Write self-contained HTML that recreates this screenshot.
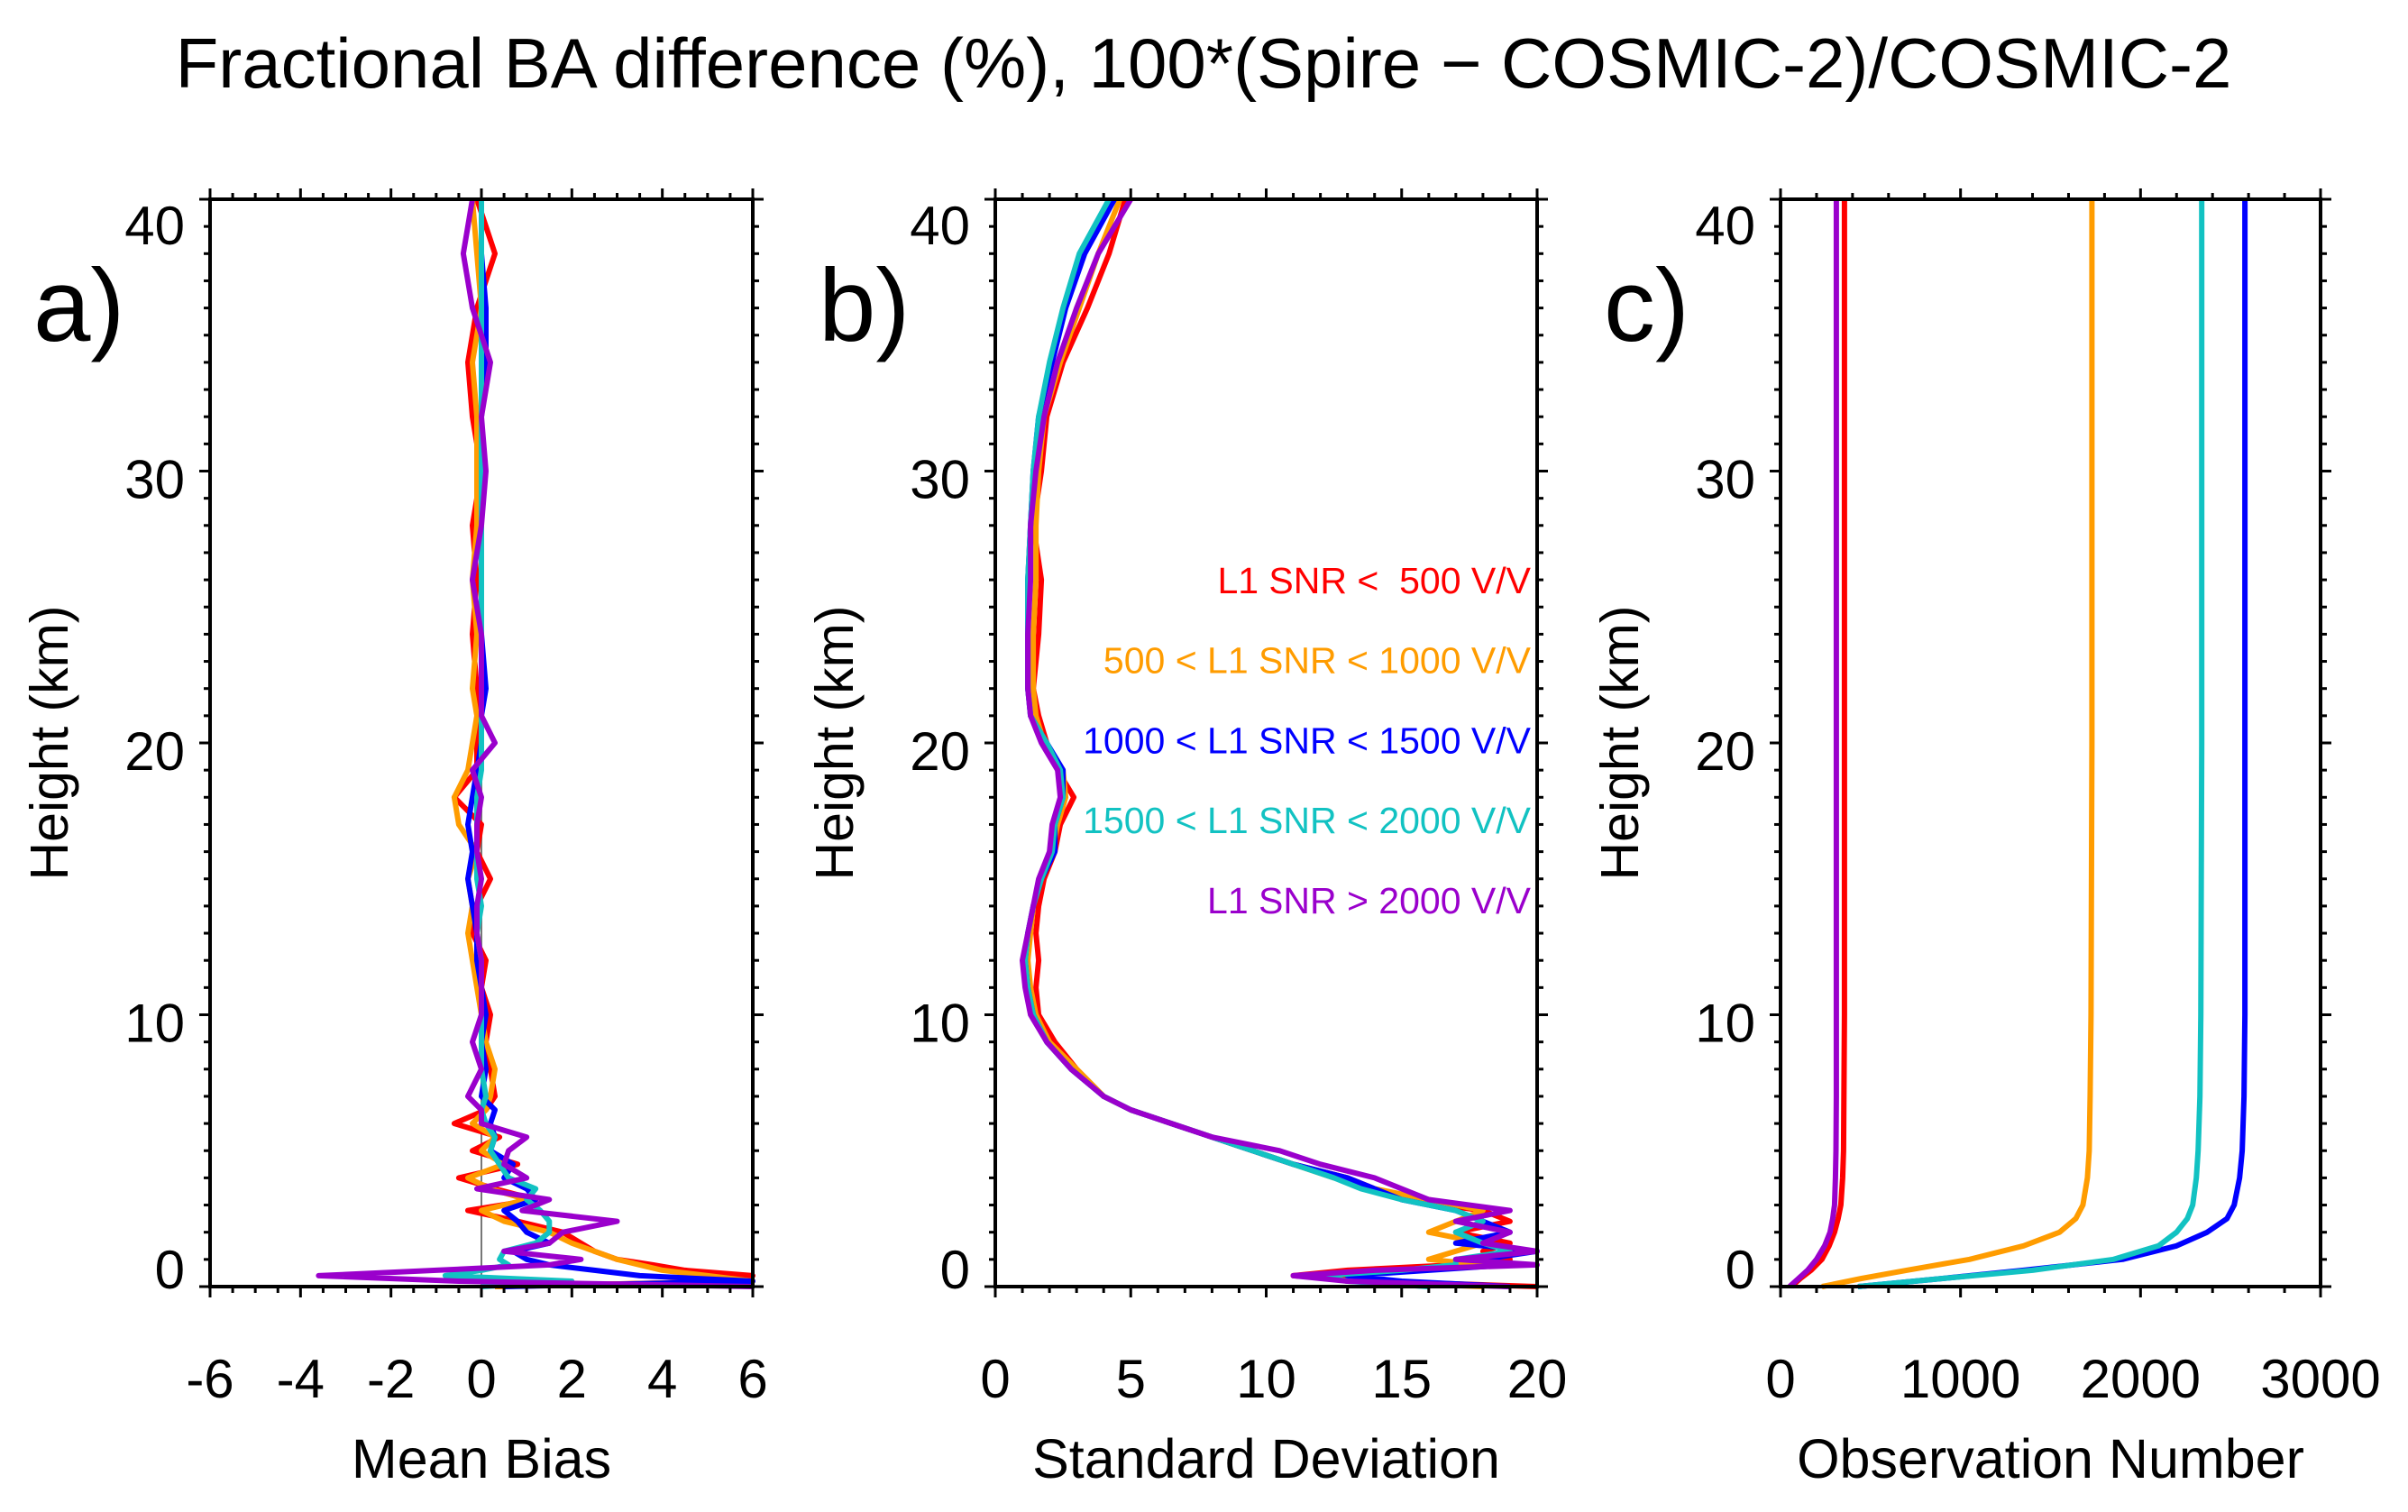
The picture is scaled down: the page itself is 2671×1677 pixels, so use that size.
<!DOCTYPE html>
<html><head><meta charset="utf-8"><style>
html,body{margin:0;padding:0;background:#fff;}
svg{display:block;}
text{font-family:"Liberation Sans",sans-serif;}
</style></head><body>
<svg id="fig" width="2671" height="1677" viewBox="0 0 2671 1677" xmlns="http://www.w3.org/2000/svg">
<text x="1335" y="97" font-size="78" text-anchor="middle">Fractional BA difference (%), 100*(Spire − COSMIC-2)/COSMIC-2</text>
<g id="layer"></g>
</svg>
<script>
const seriesNames = ['red','orange','blue','cyan','purple'];
const seriesColors = ['#ff0000','#ff9c00','#0000ff','#12c2c2','#9a00cc'];
const legendLabels = ['L1 SNR <\u00a0 500 V/V','500 < L1 SNR < 1000 V/V','1000 < L1 SNR < 1500 V/V','1500 < L1 SNR < 2000 V/V','L1 SNR > 2000 V/V'];

const heightsAB = [0,0.2,0.4,0.6,0.8,1,1.3,1.6,2,2.4,2.8,3.2,3.6,4,4.5,5,5.5,6,6.5,7,8,9,10,11,12,13,14,15,16,17,18,19,20,21,22,24,26,28,30,32,34,36,38,40];

const biasRed    = [0.3,5.8,6,4.5,3.8,3,2.5,2.2,1.8,0.8,-0.3,1.2,0.3,-0.5,0.8,-0.2,0.4,-0.6,0.1,0.3,0.2,0.1,0.2,0,0.1,-0.2,-0.1,0.2,-0.1,0,-0.6,-0.1,-0.1,0,-0.1,-0.2,-0.1,-0.2,0,-0.2,-0.3,-0.1,0.3,-0.1];
const biasOrange = [0.3,6,5,4,3.5,3,2.5,2,1.5,0.5,0,1,0.2,-0.3,0.5,0,0.3,-0.2,0.1,0.2,0.3,0.1,0,-0.1,-0.2,-0.3,-0.2,-0.3,-0.1,-0.5,-0.6,-0.3,-0.2,-0.1,-0.2,-0.1,-0.2,-0.1,-0.1,-0.1,-0.2,0,-0.1,-0.2];
const biasBlue   = [0.5,6,3.5,2.5,1.5,1,0.7,1.5,1,0.8,0.5,1.2,1,0.5,0.7,0.2,0.3,0.2,0.3,0,0.1,0,0.1,0,-0.1,-0.1,-0.2,-0.3,-0.2,-0.3,-0.2,-0.1,0,0,0.1,0,0,0,0,0,0.1,0.1,0,0];
const biasCyan   = [0,2,-0.8,0,0.6,0.4,0.5,1.2,1.5,1.5,1.3,1,1.2,0.6,0.4,0.2,0.3,0.1,0,0.1,0,0,0,0,0,-0.1,0,-0.1,-0.1,-0.1,-0.1,0,0,0,0,0,0,0,0,0,0,0,0,0];
const biasPurple = [6,-0.5,-3.6,-1,1.5,2.2,0.5,1.5,1.8,3,0.9,1.5,-0.1,1,0.5,0.6,1,0,0,-0.3,0,-0.2,0,0,0,-0.1,-0.1,0,-0.1,-0.1,0,-0.2,0.3,0,0,0,-0.2,0,0.1,0,0.2,-0.2,-0.4,-0.2];

const sdRed    = [20,14,11,13,17,19,18,19,17,19,18,15,14,13,11,9.5,8,6.5,5,4,3,2.2,1.6,1.5,1.6,1.5,1.6,1.8,2.2,2.4,2.9,2.3,1.9,1.6,1.4,1.6,1.7,1.4,1.7,1.9,2.5,3.4,4.2,4.8];
const sdOrange = [18,13,12,15,18,16,17,18,16,17,18,16,14,12.5,11,9.5,8,6.5,5,4,3,2,1.5,1.3,1.2,1.3,1.4,1.7,2.1,2.3,2.6,2.5,1.8,1.5,1.4,1.4,1.5,1.5,1.6,1.8,2.4,3.1,3.8,4.6];
const sdBlue   = [19,15,13,16,19,18,20,17,19,18,17,15,14,13,11,9.5,8,6.5,5,4,2.8,1.9,1.4,1.2,1.1,1.2,1.4,1.7,2.2,2.2,2.5,2.5,1.9,1.3,1.2,1.2,1.2,1.3,1.4,1.6,2.1,2.6,3.3,4.4];
const sdCyan   = [16,13,12,15,17,17,19,18,17,18,17,15,13.5,12.5,11,9.5,8,6.5,5,4,2.8,1.9,1.4,1.2,1.1,1.2,1.4,1.7,2.1,2.2,2.5,2.4,1.9,1.3,1.2,1.2,1.2,1.3,1.4,1.6,2,2.5,3.1,4.2];
const sdPurple = [19,13,11,14,20,17,20,18,19,17,19,16,15,14,12,10.5,8,6.5,5,4,2.8,1.9,1.3,1.1,1,1.2,1.4,1.6,2,2.1,2.4,2.3,1.7,1.3,1.2,1.2,1.3,1.3,1.5,1.8,2.3,3,3.8,5];

const heightsC = [0,0.3,0.6,1,1.5,2,2.5,3,4,5,7,10,20,40];
const obsRed    = [60,110,170,230,270,300,320,335,345,350,352,355,355,355];
const obsOrange = [230,450,700,1050,1350,1550,1640,1680,1705,1715,1720,1725,1730,1730];
const obsBlue   = [430,900,1350,1900,2200,2370,2480,2520,2550,2565,2575,2580,2580,2580];
const obsCyan   = [430,900,1400,1850,2100,2200,2260,2290,2310,2320,2330,2335,2340,2340];
const obsPurple = [50,100,150,200,245,275,290,300,305,308,310,310,310,310];

const NS='http://www.w3.org/2000/svg';
const layer=document.getElementById('layer');
function mk(tag,attrs,parent){const e=document.createElementNS(NS,tag);for(const k in attrs)e.setAttribute(k,attrs[k]);(parent||layer).appendChild(e);return e;}

const yTop=221, yBot=1427;
const yScale=h=>yBot-(h/40)*(yBot-yTop);

function panel(opt){
  const g=mk('g',{});
  
  
  const xS=v=>opt.x0+(v-opt.min)/(opt.max-opt.min)*(opt.x1-opt.x0);
  if(opt.zero){const z=mk('line',{x1:xS(0),x2:xS(0),y1:yTop,y2:yBot,stroke:'#777','stroke-width':2},g);
    
    }
  opt.series.forEach((vals,i)=>{
    const hs=opt.heights;
    const d=vals.map((v,j)=>(j?'L':'M')+xS(Math.max(opt.min,Math.min(opt.max,v))).toFixed(1)+','+yScale(hs[j]).toFixed(1)).join(' ');
    const p=mk('path',{d:d,fill:'none',stroke:opt.colors[i],'stroke-width':6,'stroke-linejoin':'round'},g);
    
    
  });
  const f=mk('rect',{x:opt.x0,y:yTop,width:opt.x1-opt.x0,height:yBot-yTop,fill:'none',stroke:'#000','stroke-width':4},g);
  
  
  for(let h=0;h<=40;h++){
    const maj=h%10===0, L=maj?12:7, y=yScale(h);
    mk('line',{x1:opt.x0-L,x2:opt.x0,y1:y,y2:y,stroke:'#000','stroke-width':3},g);
    mk('line',{x1:opt.x1,x2:opt.x1+L,y1:y,y2:y,stroke:'#000','stroke-width':3},g);
    if(maj){const off=h===40?50:(h===0?2:30);
      const t=mk('text',{x:opt.x0-28,y:y+off,'font-size':60,'text-anchor':'end'},g);t.textContent=h;
      
      }
  }
  for(let v=opt.min;v<=opt.max+1e-9;v+=opt.minor){
    const vv=Math.round(v*1000)/1000;
    const maj=Math.abs(vv/opt.major-Math.round(vv/opt.major))<1e-6, L=maj?12:7, x=xS(vv);
    mk('line',{x1:x,x2:x,y1:yBot,y2:yBot+L,stroke:'#000','stroke-width':3},g);
    mk('line',{x1:x,x2:x,y1:yTop-L,y2:yTop,stroke:'#000','stroke-width':3},g);
    if(maj){const t=mk('text',{x:x,y:1550,'font-size':60,'text-anchor':'middle'},g);t.textContent=vv;
      
      }
  }
  const xt=mk('text',{x:(opt.x0+opt.x1)/2,y:1639,'font-size':61,'text-anchor':'middle'},g);xt.textContent=opt.xtitle;
  
  
  const yt=mk('text',{x:0,y:0,'font-size':59,'text-anchor':'middle',transform:`translate(${opt.x0-158},${(yTop+yBot)/2}) rotate(-90)`},g);yt.textContent='Height (km)';
  
  
  const pl=mk('text',{x:opt.x0-196,y:378,'font-size':114},g);pl.textContent=opt.label;
  
  
}

panel({name:'panel-a',x0:233,x1:835,min:-6,max:6,major:2,minor:0.5,zero:true,heights:heightsAB,
  series:[biasRed,biasOrange,biasBlue,biasCyan,biasPurple],colors:seriesColors,snames:seriesNames,xtitle:'Mean Bias',label:'a)'});
panel({name:'panel-b',x0:1104,x1:1705,min:0,max:20,major:5,minor:1,heights:heightsAB,
  series:[sdRed,sdOrange,sdBlue,sdCyan,sdPurple],colors:seriesColors,snames:seriesNames,xtitle:'Standard Deviation',label:'b)'});
panel({name:'panel-c',x0:1975,x1:2574,min:0,max:3000,major:1000,minor:200,heights:heightsC,
  series:[obsRed,obsOrange,obsBlue,obsCyan,obsPurple],colors:seriesColors,snames:seriesNames,xtitle:'Observation Number',label:'c)'});

legendLabels.forEach((lab,i)=>{
  const t=mk('text',{x:1698,y:658+i*88.7,'font-size':41,'text-anchor':'end',fill:seriesColors[i]});
  t.textContent=lab;
  
  
});
</script>
</body></html>
